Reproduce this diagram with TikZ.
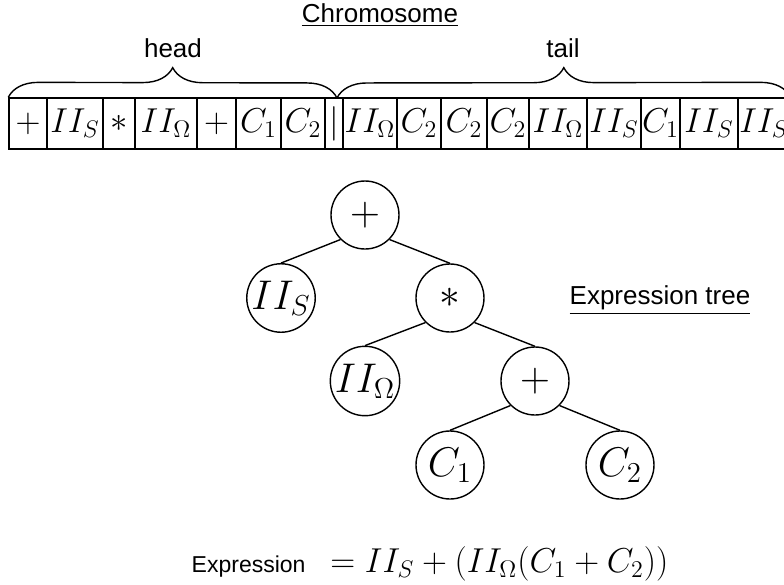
\documentclass[tikz,border=0pt]{standalone}
\usepackage{fontspec}
\setmainfont{Liberation Sans}
\usepackage{tikz}
\usetikzlibrary{decorations.pathreplacing}

\begin{document}
\begin{tikzpicture}[x=0.5pt, y=-0.5pt,
  cell/.style={draw, line width=0.7pt, minimum height=25.5pt, inner sep=0pt, font=\fontsize{17.5}{21}\selectfont},
  gene/.style={draw, circle, line width=0.7pt, minimum size=34pt, inner sep=0pt, font=\fontsize{20}{24}\selectfont},
  curly/.style={decorate, decoration={brace, amplitude=15pt}, line width=0.7pt},
  tag/.style={font=\fontsize{13}{15}\selectfont}
]
  \useasboundingbox (0,0) rectangle (784,585);

  % chromosome
  \node[tag] (chrom) at (380,15) {\underline{Chromosome}};
  \foreach \l/\r/\g [count=\i] in {9/47/+, 47/103/II_S, 103/135/*, 135/197/II_\Omega, 197/236/+, 236/281/C_1, 281/325/C_2, 325/343/|, 343/397/II_\Omega, 397/441/C_2, 441/487/C_2, 487/529/C_2, 529/587/II_\Omega, 587/641/II_S, 641/680/C_1, 680/738/II_S, 738/790/II_S}
    \node[cell, minimum width={(\r-\l)*0.5pt}] (g\i) at ({(\l+\r)/2},123.5) {$\g$};
  \coordinate (split) at (337,98);
  \draw[curly] (g1.north west) -- (split);
  \draw[curly] (split) -- (g17.north east);
  \node[tag] (head) at (173,48) {head};
  \node[tag] (tail) at (563,48) {tail};

  % expression tree
  \node[gene] (root) at (365,215) {$+$};
  \node[gene] (irs) at (281,298) {$II_S$};
  \node[gene] (mul) at (450,298) {$*$};
  \node[gene] (iro) at (365,381) {$II_\Omega$};
  \node[gene] (add) at (535,381) {$+$};
  \node[gene] (c1) at (450,465) {$C_1$};
  \node[gene] (c2) at (620,465) {$C_2$};
  \draw[line width=0.7pt] (root.south west) -- (irs.north);
  \draw[line width=0.7pt] (root.south east) -- (mul.north);
  \draw[line width=0.7pt] (mul.south west) -- (iro.north);
  \draw[line width=0.7pt] (mul.south east) -- (add.north);
  \draw[line width=0.7pt] (add.south west) -- (c1.north);
  \draw[line width=0.7pt] (add.south east) -- (c2.north);
  \node[tag] (treename) at (660,300) {\underline{Expression tree}};

  \node (expr) at (430,564) {{\fontsize{11.5}{14}\selectfont Expression}\hspace{12.5pt}{\fontsize{18.7}{22}\selectfont $=II_S+(II_\Omega(C_1+C_2))$}};
\end{tikzpicture}
\end{document}
